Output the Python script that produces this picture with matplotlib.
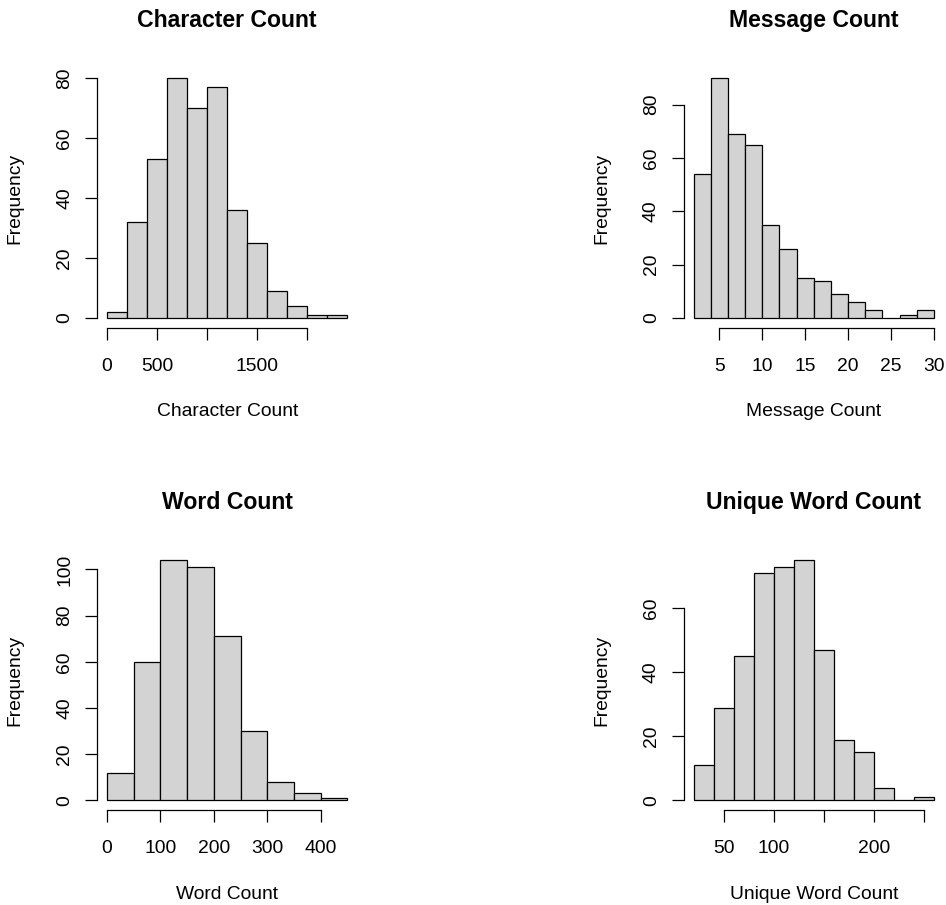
import numpy as np
import matplotlib
matplotlib.use("Agg")
import matplotlib.pyplot as plt

plt.rcParams['font.family'] = ['Liberation Sans', 'DejaVu Sans']

# histogram bins and counts
char_edges = [0, 200, 400, 600, 800, 1000, 1200, 1400, 1600, 1800, 2000, 2200, 2400]
char_counts = [2, 32, 53, 80, 70, 77, 36, 25, 9, 4, 1, 1]
char_ticks = [0, 500, 1000, 1500, 2000]
char_labels = ['0', '500', '', '1500', '']

msg_edges = [2, 4, 6, 8, 10, 12, 14, 16, 18, 20, 22, 24, 26, 28, 30]
msg_counts = [54, 90, 69, 65, 35, 26, 15, 14, 9, 6, 3, 0, 1, 3]
msg_ticks = [5, 10, 15, 20, 25, 30]
msg_labels = ['5', '10', '15', '20', '25', '30']

word_edges = [0, 50, 100, 150, 200, 250, 300, 350, 400, 450]
word_counts = [12, 60, 104, 101, 71, 30, 8, 3, 1]
word_ticks = [0, 100, 200, 300, 400]
word_labels = ['0', '100', '200', '300', '400']

uniq_edges = [20, 40, 60, 80, 100, 120, 140, 160, 180, 200, 220, 240, 260]
uniq_counts = [11, 29, 45, 71, 73, 75, 47, 19, 15, 4, 0, 1]
uniq_ticks = [50, 100, 150, 200, 250]
uniq_labels = ['50', '100', '', '200', '']

freq_ticks_80 = [0, 20, 40, 60, 80]
freq_ticks_100 = [0, 20, 40, 60, 80, 100]
freq_ticks_60 = [0, 20, 40, 60]

W, H = 946, 905
fig = plt.figure(figsize=(W / 100, H / 100), dpi=100)


def px_axes(left, top, width, height):
    return fig.add_axes([left / W, 1 - (top + height) / H, width / W, height / H])


def r_hist(ax, edges, counts, xticks, xlabels, yticks, title, xlabel):
    edges = np.asarray(edges, dtype=float)
    ax.bar(edges[:-1], counts, width=np.diff(edges), align='edge',
           color='#d3d3d3', edgecolor='black', linewidth=0.9)
    span = edges[-1] - edges[0]
    ax.set_xlim(edges[0] - 0.04 * span, edges[-1] + 0.04 * span)
    top = max(counts)
    ax.set_ylim(-0.04 * top, 1.04 * top)

    ax.set_xticks(xticks)
    ax.set_xticklabels(xlabels)
    ax.set_yticks(yticks)
    ax.set_yticklabels([str(t) for t in yticks])
    for lab in ax.get_yticklabels():
        lab.set_rotation(90)
        lab.set_va('center')

    for s in ['top', 'right']:
        ax.spines[s].set_visible(False)
    ax.spines['left'].set_bounds(yticks[0], yticks[-1])
    ax.spines['bottom'].set_bounds(xticks[0], xticks[-1])
    for s in ['left', 'bottom']:
        ax.spines[s].set_linewidth(0.9)

    ax.tick_params(axis='both', direction='out', length=8.8, width=0.9,
                   labelsize=13.9)
    ax.tick_params(axis='x', pad=13)
    ax.tick_params(axis='y', pad=8.6)

    ax.set_title(title, fontsize=16.6, fontweight='bold', pad=29.8)
    ax.set_xlabel(xlabel, fontsize=13.9)
    ax.set_ylabel('Frequency', fontsize=13.9)
    ax.xaxis.set_label_coords(0.5, -0.292)
    ax.yaxis.set_label_coords(-0.284, 0.5)


ax1 = px_axes(97.4, 68.4, 259.6, 259.2)
r_hist(ax1, char_edges, char_counts, char_ticks, char_labels, freq_ticks_80,
       'Character Count', 'Character Count')

ax2 = px_axes(684.0, 68.4, 259.6, 259.2)
r_hist(ax2, msg_edges, msg_counts, msg_ticks, msg_labels, freq_ticks_80,
       'Message Count', 'Message Count')

ax3 = px_axes(97.4, 550.6, 259.6, 259.4)
r_hist(ax3, word_edges, word_counts, word_ticks, word_labels, freq_ticks_100,
       'Word Count', 'Word Count')

ax4 = px_axes(684.0, 550.6, 259.6, 259.4)
r_hist(ax4, uniq_edges, uniq_counts, uniq_ticks, uniq_labels, freq_ticks_60,
       'Unique Word Count', 'Unique Word Count')

fig.savefig('out.png', dpi=100, facecolor='white')
